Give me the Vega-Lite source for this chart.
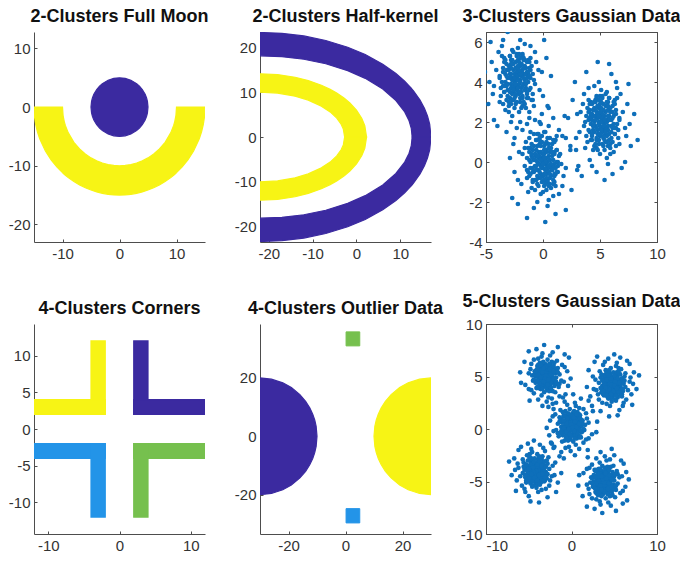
{
"$schema": "https://vega.github.io/schema/vega-lite/v6.json",
"padding": {"left": 8, "top": 7, "right": 0, "bottom": 5},
"config": {
  "font": "Liberation Sans",
  "view": {"stroke": null},
  "axis": {"grid": false, "title": null, "domainColor": "#4d4d4d", "tickColor": "#4d4d4d", "tickSize": -3, "labelPadding": 7, "labelFontSize": 15, "labelColor": "#333333", "labelFlush": false, "labelOverlap": false, "labelFont": "Liberation Sans", "labelExpr": "replace(datum.label, '−', '-')"},
  "title": {"fontSize": 18, "fontWeight": "bold", "color": "#111111", "offset": 6, "font": "Liberation Sans"}
},
"datasets": {
  "moon": [
    {"c":"k","g":"a","x":-5,"y":0,"y2":0},{"c":"k","g":"a","x":-4.9,"y":-0.99,"y2":0.99},{"c":"k","g":"a","x":-4.75,"y":-1.56,"y2":1.56},{"c":"k","g":"a","x":-4.5,"y":-2.18,"y2":2.18},{"c":"k","g":"a","x":-4,"y":-3,"y2":3},{"c":"k","g":"a","x":-3.5,"y":-3.57,"y2":3.57},{"c":"k","g":"a","x":-3,"y":-4,"y2":4},{"c":"k","g":"a","x":-2,"y":-4.58,"y2":4.58},{"c":"k","g":"a","x":-1,"y":-4.9,"y2":4.9},{"c":"k","g":"a","x":0,"y":-5,"y2":5},{"c":"k","g":"a","x":1,"y":-4.9,"y2":4.9},{"c":"k","g":"a","x":2,"y":-4.58,"y2":4.58},{"c":"k","g":"a","x":3,"y":-4,"y2":4},{"c":"k","g":"a","x":3.5,"y":-3.57,"y2":3.57},{"c":"k","g":"a","x":4,"y":-3,"y2":3},{"c":"k","g":"a","x":4.5,"y":-2.18,"y2":2.18},{"c":"k","g":"a","x":4.75,"y":-1.56,"y2":1.56},{"c":"k","g":"a","x":4.9,"y":-0.99,"y2":0.99},{"c":"k","g":"a","x":5,"y":0,"y2":0},
    {"c":"y","g":"b","x":-15,"y":0,"y2":0},{"c":"y","g":"b","x":-14.9,"y":-1.73,"y2":0},{"c":"y","g":"b","x":-14.7,"y":-2.99,"y2":0},{"c":"y","g":"b","x":-14.4,"y":-4.2,"y2":0},{"c":"y","g":"b","x":-14,"y":-5.39,"y2":0},{"c":"y","g":"b","x":-13,"y":-7.48,"y2":0},{"c":"y","g":"b","x":-12,"y":-9,"y2":0},{"c":"y","g":"b","x":-11,"y":-10.2,"y2":0},{"c":"y","g":"b","x":-10,"y":-11.18,"y2":0},{"c":"y","g":"b","x":-9.9,"y":-11.27,"y2":-1.41},{"c":"y","g":"b","x":-9.7,"y":-11.44,"y2":-2.43},{"c":"y","g":"b","x":-9.5,"y":-11.61,"y2":-3.12},{"c":"y","g":"b","x":-9,"y":-12,"y2":-4.36},{"c":"y","g":"b","x":-8,"y":-12.69,"y2":-6},{"c":"y","g":"b","x":-7,"y":-13.27,"y2":-7.14},{"c":"y","g":"b","x":-6,"y":-13.75,"y2":-8},{"c":"y","g":"b","x":-5,"y":-14.14,"y2":-8.66},{"c":"y","g":"b","x":-4,"y":-14.46,"y2":-9.17},{"c":"y","g":"b","x":-3,"y":-14.7,"y2":-9.54},{"c":"y","g":"b","x":-2,"y":-14.87,"y2":-9.8},{"c":"y","g":"b","x":-1,"y":-14.97,"y2":-9.95},{"c":"y","g":"b","x":0,"y":-15,"y2":-10},
    {"c":"y","g":"b","x":1,"y":-14.97,"y2":-9.95},{"c":"y","g":"b","x":2,"y":-14.87,"y2":-9.8},{"c":"y","g":"b","x":3,"y":-14.7,"y2":-9.54},{"c":"y","g":"b","x":4,"y":-14.46,"y2":-9.17},{"c":"y","g":"b","x":5,"y":-14.14,"y2":-8.66},{"c":"y","g":"b","x":6,"y":-13.75,"y2":-8},{"c":"y","g":"b","x":7,"y":-13.27,"y2":-7.14},{"c":"y","g":"b","x":8,"y":-12.69,"y2":-6},{"c":"y","g":"b","x":9,"y":-12,"y2":-4.36},{"c":"y","g":"b","x":9.5,"y":-11.61,"y2":-3.12},{"c":"y","g":"b","x":9.7,"y":-11.44,"y2":-2.43},{"c":"y","g":"b","x":9.9,"y":-11.27,"y2":-1.41},{"c":"y","g":"b","x":10,"y":-11.18,"y2":0},{"c":"y","g":"b","x":11,"y":-10.2,"y2":0},{"c":"y","g":"b","x":12,"y":-9,"y2":0},{"c":"y","g":"b","x":13,"y":-7.48,"y2":0},{"c":"y","g":"b","x":14,"y":-5.39,"y2":0},{"c":"y","g":"b","x":14.4,"y":-4.2,"y2":0},{"c":"y","g":"b","x":14.7,"y":-2.99,"y2":0},{"c":"y","g":"b","x":14.9,"y":-1.73,"y2":0},{"c":"y","g":"b","x":15,"y":0,"y2":0}
  ],
  "kernel": [
    {"c":"k","g":"t1","x":-22,"y":18.1,"y2":23.3},{"c":"k","g":"t1","x":-17,"y":17.91,"y2":23.11},{"c":"k","g":"t1","x":-12,"y":17.33,"y2":22.52},{"c":"k","g":"t1","x":-7,"y":16.32,"y2":21.51},{"c":"k","g":"t1","x":-2,"y":14.79,"y2":20},{"c":"k","g":"t1","x":2,"y":13.07,"y2":18.37},{"c":"k","g":"t1","x":6,"y":10.69,"y2":16.22},{"c":"k","g":"t1","x":9,"y":8.13,"y2":14.14},{"c":"k","g":"t1","x":11,"y":5.6,"y2":12.42},{"c":"k","g":"t1","x":12,"y":3.62,"y2":11.41},{"c":"k","g":"t1","x":12.5,"y":1.94,"y2":10.87},{"c":"k","g":"t1","x":12.7,"y":0,"y2":10.64},{"c":"k","g":"t1","x":13,"y":0,"y2":10.28},{"c":"k","g":"t1","x":14.5,"y":0,"y2":8.21},{"c":"k","g":"t1","x":15.5,"y":0,"y2":6.4},{"c":"k","g":"t1","x":16.2,"y":0,"y2":4.7},{"c":"k","g":"t1","x":16.7,"y":0,"y2":2.89},{"c":"k","g":"t1","x":17,"y":0,"y2":0},
    {"c":"k","g":"b1","x":-22,"y":-23.3,"y2":-18.1},{"c":"k","g":"b1","x":-17,"y":-23.11,"y2":-17.91},{"c":"k","g":"b1","x":-12,"y":-22.52,"y2":-17.33},{"c":"k","g":"b1","x":-7,"y":-21.51,"y2":-16.32},{"c":"k","g":"b1","x":-2,"y":-20,"y2":-14.79},{"c":"k","g":"b1","x":2,"y":-18.37,"y2":-13.07},{"c":"k","g":"b1","x":6,"y":-16.22,"y2":-10.69},{"c":"k","g":"b1","x":9,"y":-14.14,"y2":-8.13},{"c":"k","g":"b1","x":11,"y":-12.42,"y2":-5.6},{"c":"k","g":"b1","x":12,"y":-11.41,"y2":-3.62},{"c":"k","g":"b1","x":12.5,"y":-10.87,"y2":-1.94},{"c":"k","g":"b1","x":12.7,"y":-10.64,"y2":0},{"c":"k","g":"b1","x":13,"y":-10.28,"y2":0},{"c":"k","g":"b1","x":14.5,"y":-8.21,"y2":0},{"c":"k","g":"b1","x":15.5,"y":-6.4,"y2":0},{"c":"k","g":"b1","x":16.2,"y":-4.7,"y2":0},{"c":"k","g":"b1","x":16.7,"y":-2.89,"y2":0},{"c":"k","g":"b1","x":17,"y":0,"y2":0},
    {"c":"y","g":"t2","x":-22,"y":10,"y2":14.1},{"c":"y","g":"t2","x":-18,"y":9.78,"y2":13.91},{"c":"y","g":"t2","x":-14,"y":9.1,"y2":13.31},{"c":"y","g":"t2","x":-11,"y":8.22,"y2":12.57},{"c":"y","g":"t2","x":-8,"y":6.88,"y2":11.52},{"c":"y","g":"t2","x":-6,"y":5.59,"y2":10.61},{"c":"y","g":"t2","x":-4.5,"y":4.22,"y2":9.78},{"c":"y","g":"t2","x":-3.5,"y":2.85,"y2":9.14},{"c":"y","g":"t2","x":-3,"y":1.76,"y2":8.79},{"c":"y","g":"t2","x":-2.7,"y":0,"y2":8.57},{"c":"y","g":"t2","x":-1.5,"y":0,"y2":7.57},{"c":"y","g":"t2","x":0,"y":0,"y2":5.99},{"c":"y","g":"t2","x":1.2,"y":0,"y2":4.19},{"c":"y","g":"t2","x":1.9,"y":0,"y2":2.55},{"c":"y","g":"t2","x":2.3,"y":0,"y2":0},
    {"c":"y","g":"b2","x":-22,"y":-14.1,"y2":-10},{"c":"y","g":"b2","x":-18,"y":-13.91,"y2":-9.78},{"c":"y","g":"b2","x":-14,"y":-13.31,"y2":-9.1},{"c":"y","g":"b2","x":-11,"y":-12.57,"y2":-8.22},{"c":"y","g":"b2","x":-8,"y":-11.52,"y2":-6.88},{"c":"y","g":"b2","x":-6,"y":-10.61,"y2":-5.59},{"c":"y","g":"b2","x":-4.5,"y":-9.78,"y2":-4.22},{"c":"y","g":"b2","x":-3.5,"y":-9.14,"y2":-2.85},{"c":"y","g":"b2","x":-3,"y":-8.79,"y2":-1.76},{"c":"y","g":"b2","x":-2.7,"y":-8.57,"y2":0},{"c":"y","g":"b2","x":-1.5,"y":-7.57,"y2":0},{"c":"y","g":"b2","x":0,"y":-5.99,"y2":0},{"c":"y","g":"b2","x":1.2,"y":-4.19,"y2":0},{"c":"y","g":"b2","x":1.9,"y":-2.55,"y2":0},{"c":"y","g":"b2","x":2.3,"y":0,"y2":0}
  ],
  "corners": [
    {"c":"y","x":-4,"x2":-2,"y":2,"y2":12},{"c":"y","x":-12,"x2":-2,"y":2,"y2":4},
    {"c":"k","x":2,"x2":4,"y":2,"y2":12},{"c":"k","x":2,"x2":12,"y":2,"y2":4},
    {"c":"l","x":-12,"x2":-2,"y":-4,"y2":-2},{"c":"l","x":-4,"x2":-2,"y":-12,"y2":-2},
    {"c":"g","x":2,"x2":12,"y":-4,"y2":-2},{"c":"g","x":2,"x2":4,"y":-12,"y2":-2}
  ],
  "outA": [
    {"c":"k","g":"o1","x":-30,"y":-20,"y2":20},{"c":"k","g":"o1","x":-26,"y":-19.6,"y2":19.6},{"c":"k","g":"o1","x":-22,"y":-18.33,"y2":18.33},{"c":"k","g":"o1","x":-19,"y":-16.7,"y2":16.7},{"c":"k","g":"o1","x":-16,"y":-14.28,"y2":14.28},{"c":"k","g":"o1","x":-14,"y":-12,"y2":12},{"c":"k","g":"o1","x":-12.5,"y":-9.68,"y2":9.68},{"c":"k","g":"o1","x":-11.5,"y":-7.6,"y2":7.6},{"c":"k","g":"o1","x":-10.8,"y":-5.6,"y2":5.6},{"c":"k","g":"o1","x":-10.3,"y":-3.45,"y2":3.45},{"c":"k","g":"o1","x":-10,"y":0,"y2":0},
    {"c":"y","g":"o2","x":10,"y":0,"y2":0},{"c":"y","g":"o2","x":10.3,"y":-3.45,"y2":3.45},{"c":"y","g":"o2","x":10.8,"y":-5.6,"y2":5.6},{"c":"y","g":"o2","x":11.5,"y":-7.6,"y2":7.6},{"c":"y","g":"o2","x":12.5,"y":-9.68,"y2":9.68},{"c":"y","g":"o2","x":14,"y":-12,"y2":12},{"c":"y","g":"o2","x":16,"y":-14.28,"y2":14.28},{"c":"y","g":"o2","x":19,"y":-16.7,"y2":16.7},{"c":"y","g":"o2","x":22,"y":-18.33,"y2":18.33},{"c":"y","g":"o2","x":26,"y":-19.6,"y2":19.6},{"c":"y","g":"o2","x":30,"y":-20,"y2":20}
  ],
  "outR": [
    {"c":"g","x":0.2,"x2":5,"y":31,"y2":35.8},
    {"c":"l","x":0.2,"x2":5,"y":-29.7,"y2":-24.8}
  ],
  "g3": [
{"x":-2.2,"y":4.3},{"x":-2.6,"y":4.6},{"x":-1.7,"y":3.9},{"x":-2.8,"y":3.7},{"x":-2.1,"y":3.4},{"x":-3.1,"y":4.2},{"x":-1.4,"y":4.5},{"x":-2.4,"y":5.0},{"x":-1.9,"y":4.9},{"x":-2.9,"y":3.2},
{"x":-1.2,"y":3.6},{"x":-3.5,"y":4.7},{"x":-2.0,"y":3.0},{"x":-2.5,"y":4.0},{"x":-1.6,"y":4.1},{"x":-3.2,"y":3.8},{"x":-2.3,"y":3.6},{"x":-1.0,"y":4.8},{"x":-3.7,"y":3.3},{"x":-1.8,"y":5.4},
{"x":-2.7,"y":5.6},{"x":-0.7,"y":3.9},{"x":-3.8,"y":4.3},{"x":-1.5,"y":2.7},{"x":-3.0,"y":2.5},{"x":-1.3,"y":5.1},{"x":-3.4,"y":5.2},{"x":-2.1,"y":4.5},{"x":-2.6,"y":3.5},{"x":-1.7,"y":4.4},
{"x":-0.4,"y":4.6},{"x":-4.3,"y":3.8},{"x":-2.0,"y":6.1},{"x":-2.8,"y":2.0},{"x":-0.8,"y":2.8},{"x":-3.9,"y":5.5},{"x":-1.1,"y":5.8},{"x":-3.3,"y":2.6},{"x":0.0,"y":3.3},{"x":-4.5,"y":5.0},
{"x":-1.4,"y":1.9},{"x":-3.1,"y":6.5},{"x":0.3,"y":5.2},{"x":-4.8,"y":2.9},{"x":-0.9,"y":6.6},{"x":-4.0,"y":1.8},{"x":-2.2,"y":3.8},{"x":-2.4,"y":4.7},{"x":-1.9,"y":3.7},{"x":-2.9,"y":4.4},
{"x":-1.5,"y":4.7},{"x":-3.2,"y":4.9},{"x":-1.8,"y":3.3},{"x":-2.6,"y":3.1},{"x":-1.1,"y":4.2},{"x":-3.6,"y":4.0},{"x":-2.3,"y":5.3},{"x":-2.1,"y":2.5},{"x":-0.6,"y":5.0},{"x":-4.1,"y":4.6},
{"x":-1.6,"y":5.9},{"x":-2.7,"y":2.3},{"x":-0.3,"y":3.6},{"x":-4.4,"y":3.4},{"x":-1.2,"y":2.2},{"x":-3.5,"y":6.1},{"x":0.7,"y":4.3},{"x":-5.1,"y":4.5},{"x":-1.9,"y":7.1},{"x":-2.5,"y":1.2},
{"x":0.1,"y":6.1},{"x":-4.6,"y":6.0},{"x":-0.2,"y":1.9},{"x":-4.3,"y":2.1},{"x":-2.0,"y":4.1},{"x":-2.4,"y":3.3},{"x":-1.4,"y":3.2},{"x":-3.0,"y":4.6},{"x":-1.3,"y":4.4},{"x":-3.4,"y":3.5},
{"x":-1.7,"y":5.1},{"x":-2.8,"y":5.1},{"x":-0.9,"y":3.4},{"x":-3.8,"y":3.0},{"x":-2.2,"y":5.7},{"x":-1.6,"y":2.9},{"x":-0.7,"y":5.5},{"x":-3.6,"y":5.8},{"x":-0.1,"y":4.5},{"x":-4.7,"y":4.0},
{"x":-1.8,"y":1.6},{"x":-3.2,"y":1.5},{"x":0.5,"y":2.7},{"x":-5.4,"y":3.2},{"x":-0.5,"y":1.4},{"x":-2.9,"y":7.0},{"x":-2.3,"y":4.1},{"x":-2.7,"y":4.2},{"x":-2.0,"y":4.8},{"x":-2.5,"y":3.7},
{"x":-2.1,"y":3.9},{"x":-2.5,"y":4.4},{"x":-1.8,"y":4.6},{"x":-2.8,"y":3.9},{"x":-2.2,"y":5.1},{"x":-3.1,"y":3.6},{"x":-1.5,"y":3.7},{"x":-2.6,"y":4.9},{"x":-1.9,"y":3.5},{"x":-3.3,"y":4.4},
{"x":-1.3,"y":4.0},{"x":-2.4,"y":2.9},{"x":-1.7,"y":5.2},{"x":-2.9,"y":5.3},{"x":-1.1,"y":4.6},{"x":-3.5,"y":3.8},{"x":-2.0,"y":3.2},{"x":-2.7,"y":3.4},{"x":-1.6,"y":4.8},{"x":-3.2,"y":4.6},
{"x":-2.3,"y":4.5},{"x":-1.9,"y":4.3},{"x":-2.5,"y":3.8},{"x":-1.4,"y":3.4},{"x":-3.0,"y":3.0},{"x":-1.2,"y":5.0},{"x":-3.4,"y":5.0},{"x":-2.1,"y":5.4},{"x":-1.8,"y":2.8},{"x":-2.8,"y":4.7},
{"x":-2.3,"y":4.3},{"x":-2.0,"y":4.0},{"x":-2.7,"y":4.1},{"x":-2.2,"y":3.7},{"x":-2.4,"y":4.7},{"x":-1.7,"y":4.7},{"x":-2.9,"y":3.5},{"x":-1.6,"y":3.6},{"x":-3.0,"y":4.8},{"x":-2.1,"y":5.0},
{"x":-2.5,"y":3.2},{"x":-1.4,"y":4.2},{"x":-3.3,"y":4.0},{"x":-1.8,"y":5.3},{"x":-2.8,"y":2.9},{"x":-1.1,"y":3.7},{"x":-3.5,"y":4.5},{"x":-1.4,"y":5.0},{"x":-3.2,"y":3.1},{"x":-1.3,"y":3.2},
{"x":-3.3,"y":5.1},{"x":-1.9,"y":2.7},{"x":-2.6,"y":5.5},{"x":-0.9,"y":4.4},{"x":-3.7,"y":3.7},{"x":-2.2,"y":4.1},{"x":-2.5,"y":4.2},{"x":-1.9,"y":4.5},{"x":-2.8,"y":4.4},{"x":-2.1,"y":3.5},
{"x":-2.6,"y":3.8},{"x":-1.5,"y":4.4},{"x":-3.1,"y":3.9},{"x":-1.8,"y":3.2},{"x":-2.7,"y":5.1},{"x":-1.2,"y":4.7},{"x":-3.4,"y":3.5},{"x":-1.6,"y":5.1},{"x":-3.0,"y":2.8},{"x":-1.0,"y":3.1},
{"x":-3.6,"y":5.3},{"x":-2.3,"y":3.0},{"x":-2.3,"y":5.4},{"x":-0.8,"y":4.1},{"x":-3.8,"y":4.2},{"x":-1.7,"y":4.2},{"x":-2.9,"y":4.2},{"x":-2.2,"y":4.8},{"x":-2.4,"y":3.4},{"x":-2.0,"y":4.4},
{"x":-2.6,"y":3.6},{"x":-1.5,"y":3.9},{"x":-3.2,"y":4.3},{"x":-2.0,"y":5.2},{"x":-2.5,"y":2.7},{"x":-1.3,"y":4.5},{"x":-3.4,"y":3.8},{"x":-1.7,"y":3.0},{"x":-2.9,"y":5.3},{"x":-1.1,"y":5.2},
{"x":-3.5,"y":2.9},{"x":-2.1,"y":4.6},{"x":-2.4,"y":3.9},{"x":-1.8,"y":3.8},{"x":-2.8,"y":4.9},{"x":-1.4,"y":3.5},{"x":-3.1,"y":3.3},{"x":-1.9,"y":4.9},{"x":-2.7,"y":3.1},{"x":-1.2,"y":4.3},
{"x":0.2,"y":-0.1},{"x":0.5,"y":0.3},{"x":-0.2,"y":-0.6},{"x":-0.4,"y":0.5},{"x":-0.7,"y":-0.2},{"x":0.1,"y":0.8},{"x":0.4,"y":-0.9},{"x":0.9,"y":0.1},{"x":0.8,"y":-0.4},{"x":-0.9,"y":0.6},
{"x":-0.5,"y":-1.1},{"x":0.6,"y":1.2},{"x":-1.1,"y":-0.3},{"x":-0.1,"y":0.2},{"x":0.0,"y":-0.7},{"x":-0.3,"y":0.9},{"x":-0.5,"y":0.0},{"x":0.7,"y":-1.3},{"x":-0.8,"y":1.4},{"x":1.3,"y":-0.5},
{"x":1.5,"y":0.4},{"x":-0.2,"y":-1.6},{"x":0.2,"y":1.5},{"x":-1.4,"y":-0.8},{"x":-1.6,"y":0.7},{"x":1.0,"y":-1.0},{"x":1.1,"y":1.1},{"x":0.4,"y":-0.2},{"x":-0.6,"y":0.3},{"x":0.3,"y":-0.6},
{"x":0.5,"y":-1.9},{"x":-0.3,"y":2.0},{"x":2.0,"y":-0.3},{"x":-2.1,"y":0.5},{"x":-1.3,"y":-1.5},{"x":1.4,"y":1.6},{"x":1.7,"y":-1.2},{"x":-1.5,"y":1.0},{"x":-0.8,"y":-2.3},{"x":0.9,"y":2.2},
{"x":-2.2,"y":-0.9},{"x":2.4,"y":0.8},{"x":1.1,"y":-2.6},{"x":-1.2,"y":2.5},{"x":2.5,"y":-1.4},{"x":-2.3,"y":1.7},{"x":-0.3,"y":-0.1},{"x":0.6,"y":0.1},{"x":-0.4,"y":-0.4},{"x":0.3,"y":0.6},
{"x":0.6,"y":-0.8},{"x":0.8,"y":0.9},{"x":-0.8,"y":-0.5},{"x":-1.0,"y":0.3},{"x":0.1,"y":-1.2},{"x":-0.1,"y":1.3},{"x":1.2,"y":0.0},{"x":-1.6,"y":-0.2},{"x":0.9,"y":-1.7},{"x":0.5,"y":1.8},
{"x":1.8,"y":-0.7},{"x":-1.8,"y":0.4},{"x":-0.5,"y":-2.0},{"x":-0.7,"y":2.1},{"x":-1.9,"y":-1.1},{"x":2.0,"y":1.2},{"x":0.2,"y":-3.0},{"x":0.4,"y":2.8},{"x":3.0,"y":-0.4},{"x":-2.9,"y":0.2},
{"x":2.0,"y":-2.4},{"x":1.9,"y":2.3},{"x":-2.2,"y":-2.1},{"x":-2.0,"y":2.0},{"x":0.0,"y":-0.3},{"x":-0.8,"y":0.1},{"x":-0.9,"y":-0.9},{"x":0.5,"y":0.7},{"x":0.3,"y":-1.0},{"x":-0.6,"y":1.1},
{"x":1.0,"y":-0.6},{"x":1.0,"y":0.5},{"x":-0.7,"y":-1.4},{"x":-1.1,"y":1.5},{"x":1.6,"y":-0.1},{"x":-1.2,"y":-0.7},{"x":1.4,"y":-1.6},{"x":1.7,"y":1.3},{"x":0.4,"y":-2.2},{"x":-0.1,"y":2.4},
{"x":-2.5,"y":-0.5},{"x":-2.6,"y":0.9},{"x":-1.4,"y":-2.8},{"x":-0.9,"y":3.1},{"x":-2.7,"y":-1.8},{"x":2.9,"y":0.6},{"x":0.0,"y":0.0},{"x":0.1,"y":0.4},{"x":0.7,"y":-0.3},{"x":-0.4,"y":0.2},
{"x":-0.2,"y":-0.2},{"x":0.3,"y":0.2},{"x":0.5,"y":-0.5},{"x":-0.2,"y":0.5},{"x":1.0,"y":-0.1},{"x":-0.5,"y":0.8},{"x":-0.4,"y":-0.8},{"x":0.8,"y":0.3},{"x":-0.6,"y":-0.4},{"x":0.3,"y":1.0},
{"x":-0.1,"y":-1.0},{"x":-1.2,"y":0.1},{"x":1.1,"y":-0.6},{"x":1.2,"y":0.6},{"x":0.5,"y":-1.2},{"x":-0.3,"y":1.2},{"x":-0.9,"y":-0.3},{"x":-0.7,"y":0.4},{"x":0.7,"y":-0.7},{"x":0.5,"y":0.9},
{"x":0.4,"y":0.0},{"x":0.2,"y":-0.4},{"x":-0.3,"y":0.2},{"x":-0.7,"y":-0.9},{"x":-1.1,"y":0.7},{"x":0.9,"y":-1.1},{"x":0.9,"y":1.1},{"x":1.3,"y":-0.2},{"x":-1.3,"y":-0.5},{"x":0.6,"y":0.5},
{"x":0.2,"y":0.0},{"x":-0.1,"y":-0.3},{"x":0.0,"y":0.4},{"x":-0.4,"y":-0.1},{"x":0.6,"y":0.1},{"x":0.6,"y":-0.6},{"x":-0.6,"y":0.6},{"x":-0.5,"y":-0.7},{"x":0.7,"y":0.7},{"x":0.9,"y":-0.2},
{"x":-0.9,"y":0.2},{"x":0.1,"y":-0.9},{"x":-0.1,"y":1.0},{"x":1.2,"y":-0.5},{"x":-1.2,"y":0.5},{"x":-0.4,"y":-1.2},{"x":0.4,"y":1.2},{"x":0.9,"y":-0.9},{"x":-1.0,"y":0.9},{"x":-0.9,"y":-1.0},
{"x":1.0,"y":1.0},{"x":-1.4,"y":-0.4},{"x":1.4,"y":0.3},{"x":0.3,"y":-1.4},{"x":-0.4,"y":1.4},{"x":0.0,"y":-0.1},{"x":0.1,"y":0.2},{"x":0.4,"y":-0.4},{"x":0.3,"y":0.5},{"x":-0.6,"y":-0.2},
{"x":-0.3,"y":0.3},{"x":0.3,"y":-0.8},{"x":-0.2,"y":0.8},{"x":-0.9,"y":-0.5},{"x":1.0,"y":0.4},{"x":0.6,"y":-1.1},{"x":-0.6,"y":1.1},{"x":1.0,"y":-0.7},{"x":-1.3,"y":0.7},{"x":-1.0,"y":-1.3},
{"x":1.2,"y":1.3},{"x":-1.1,"y":0.0},{"x":1.3,"y":0.0},{"x":0.0,"y":-1.5},{"x":0.1,"y":1.5},{"x":0.1,"y":-0.6},{"x":0.1,"y":0.6},{"x":0.7,"y":-0.1},{"x":-0.7,"y":0.1},{"x":0.3,"y":-0.3},
{"x":-0.5,"y":0.3},{"x":-0.2,"y":-0.8},{"x":0.2,"y":0.9},{"x":1.1,"y":-0.3},{"x":-1.4,"y":0.2},{"x":0.4,"y":-1.0},{"x":-0.3,"y":1.1},{"x":-1.1,"y":-0.6},{"x":1.2,"y":0.6},{"x":1.1,"y":-1.2},
{"x":-1.2,"y":1.2},{"x":0.5,"y":-0.2},{"x":-0.2,"y":0.1},{"x":-0.3,"y":-0.5},{"x":0.8,"y":0.5},{"x":-0.6,"y":-0.9},{"x":-0.8,"y":0.8},{"x":0.8,"y":-0.4},{"x":-1.0,"y":0.4},{"x":0.2,"y":-1.1},
{"x":5.1,"y":2.2},{"x":5.5,"y":2.5},{"x":4.6,"y":1.8},{"x":5.7,"y":1.6},{"x":5.0,"y":1.3},{"x":6.0,"y":2.1},{"x":4.3,"y":2.4},{"x":5.3,"y":2.9},{"x":4.8,"y":2.8},{"x":5.8,"y":1.1},
{"x":4.1,"y":1.5},{"x":6.4,"y":2.6},{"x":4.9,"y":0.9},{"x":5.4,"y":1.9},{"x":4.5,"y":2.0},{"x":6.1,"y":1.7},{"x":5.2,"y":1.5},{"x":3.9,"y":2.7},{"x":6.6,"y":1.2},{"x":4.7,"y":3.3},
{"x":5.6,"y":3.5},{"x":3.6,"y":1.8},{"x":6.7,"y":2.2},{"x":4.4,"y":0.6},{"x":5.9,"y":0.4},{"x":4.2,"y":3.0},{"x":6.3,"y":3.1},{"x":5.0,"y":2.4},{"x":5.5,"y":1.4},{"x":4.6,"y":2.3},
{"x":3.3,"y":2.5},{"x":7.2,"y":1.7},{"x":4.9,"y":4.0},{"x":5.7,"y":-0.1},{"x":3.7,"y":0.7},{"x":6.8,"y":3.4},{"x":4.0,"y":3.7},{"x":6.2,"y":0.5},{"x":2.9,"y":1.2},{"x":7.4,"y":2.9},
{"x":4.3,"y":-0.2},{"x":6.0,"y":4.4},{"x":2.6,"y":3.1},{"x":7.7,"y":0.8},{"x":3.8,"y":4.5},{"x":6.9,"y":-0.3},{"x":5.1,"y":1.7},{"x":5.3,"y":2.6},{"x":4.8,"y":1.6},{"x":5.8,"y":2.3},
{"x":4.4,"y":2.6},{"x":6.1,"y":2.8},{"x":4.7,"y":1.2},{"x":5.5,"y":1.0},{"x":4.0,"y":2.1},{"x":6.5,"y":1.9},{"x":5.2,"y":3.2},{"x":5.0,"y":0.4},{"x":3.5,"y":2.9},{"x":7.0,"y":2.5},
{"x":4.5,"y":3.8},{"x":5.6,"y":0.2},{"x":3.2,"y":1.5},{"x":7.3,"y":1.3},{"x":4.1,"y":0.1},{"x":6.4,"y":4.0},{"x":2.2,"y":2.2},{"x":8.0,"y":2.4},{"x":4.8,"y":5.0},{"x":5.4,"y":-0.9},
{"x":2.8,"y":4.0},{"x":7.5,"y":3.9},{"x":3.1,"y":-0.2},{"x":7.2,"y":0.0},{"x":4.9,"y":2.0},{"x":5.3,"y":1.2},{"x":4.3,"y":1.1},{"x":5.9,"y":2.5},{"x":4.2,"y":2.3},{"x":6.3,"y":1.4},
{"x":4.6,"y":3.0},{"x":5.7,"y":3.0},{"x":3.8,"y":1.3},{"x":6.7,"y":0.9},{"x":5.1,"y":3.6},{"x":4.5,"y":0.8},{"x":3.6,"y":3.4},{"x":6.5,"y":3.7},{"x":3.0,"y":2.4},{"x":7.6,"y":1.9},
{"x":4.7,"y":-0.5},{"x":6.1,"y":-0.6},{"x":2.4,"y":0.6},{"x":8.3,"y":1.1},{"x":3.4,"y":-0.7},{"x":5.8,"y":4.9},{"x":5.2,"y":2.0},{"x":5.6,"y":2.1},{"x":4.9,"y":2.7},{"x":5.4,"y":1.6},
{"x":5.0,"y":1.8},{"x":5.4,"y":2.3},{"x":4.7,"y":2.5},{"x":5.7,"y":1.8},{"x":5.1,"y":3.0},{"x":6.0,"y":1.5},{"x":4.4,"y":1.6},{"x":5.5,"y":2.8},{"x":4.8,"y":1.4},{"x":6.2,"y":2.3},
{"x":4.2,"y":1.9},{"x":5.3,"y":0.8},{"x":4.6,"y":3.1},{"x":5.8,"y":3.2},{"x":4.0,"y":2.5},{"x":6.4,"y":1.7},{"x":4.9,"y":1.1},{"x":5.6,"y":1.3},{"x":4.5,"y":2.7},{"x":6.1,"y":2.5},
{"x":5.2,"y":2.4},{"x":4.8,"y":2.2},{"x":5.4,"y":1.7},{"x":4.3,"y":1.3},{"x":5.9,"y":0.9},{"x":4.1,"y":2.9},{"x":6.3,"y":2.9},{"x":5.0,"y":3.3},{"x":4.7,"y":0.7},{"x":5.7,"y":2.6},
{"x":5.2,"y":2.2},{"x":4.9,"y":1.9},{"x":5.6,"y":2.0},{"x":5.1,"y":1.6},{"x":5.3,"y":2.6},{"x":4.6,"y":2.6},{"x":5.8,"y":1.4},{"x":4.5,"y":1.5},{"x":5.9,"y":2.7},{"x":5.0,"y":2.9},
{"x":5.4,"y":1.1},{"x":4.3,"y":2.1},{"x":6.2,"y":1.9},{"x":4.7,"y":3.2},{"x":5.7,"y":0.8},{"x":4.0,"y":1.6},{"x":6.4,"y":2.4},{"x":4.3,"y":2.9},{"x":6.1,"y":1.0},{"x":4.2,"y":1.1},
{"x":6.2,"y":3.0},{"x":4.8,"y":0.6},{"x":5.5,"y":3.4},{"x":3.8,"y":2.3},{"x":6.6,"y":1.6},{"x":5.1,"y":2.0},{"x":5.4,"y":2.1},{"x":4.8,"y":2.4},{"x":5.7,"y":2.3},{"x":5.0,"y":1.4},
{"x":5.5,"y":1.7},{"x":4.4,"y":2.3},{"x":6.0,"y":1.8},{"x":4.7,"y":1.1},{"x":5.6,"y":3.0},{"x":4.1,"y":2.6},{"x":6.3,"y":1.4},{"x":4.5,"y":3.0},{"x":5.9,"y":0.7},{"x":3.9,"y":1.0},
{"x":6.5,"y":3.2},{"x":5.2,"y":0.9},{"x":5.2,"y":3.3},{"x":3.7,"y":2.0},{"x":6.7,"y":2.1},{"x":4.6,"y":2.1},{"x":5.8,"y":2.1},{"x":5.1,"y":2.7},{"x":5.3,"y":1.3},{"x":4.9,"y":2.3},
{"x":5.5,"y":1.5},{"x":4.4,"y":1.8},{"x":6.1,"y":2.2},{"x":4.9,"y":3.1},{"x":5.4,"y":0.6},{"x":4.2,"y":2.4},{"x":6.3,"y":1.7},{"x":4.6,"y":0.9},{"x":5.8,"y":3.2},{"x":4.0,"y":3.1},
{"x":6.4,"y":0.8},{"x":5.0,"y":2.5},{"x":5.3,"y":1.8},{"x":4.7,"y":1.7},{"x":5.7,"y":2.8},{"x":4.3,"y":1.4},{"x":6.0,"y":1.2},{"x":4.8,"y":2.8},{"x":5.6,"y":1.0},{"x":4.1,"y":2.2}
  ],
  "g5": [
{"x":-3.2,"y":5.1},{"x":-3.5,"y":4.7},{"x":-2.8,"y":5.6},{"x":-2.6,"y":4.5},{"x":-2.3,"y":5.2},{"x":-3.1,"y":4.2},{"x":-3.4,"y":5.9},{"x":-3.9,"y":4.9},{"x":-3.8,"y":5.4},{"x":-2.1,"y":4.4},
{"x":-2.5,"y":6.1},{"x":-3.6,"y":3.8},{"x":-1.9,"y":5.3},{"x":-2.9,"y":4.8},{"x":-3.0,"y":5.7},{"x":-2.7,"y":4.1},{"x":-2.5,"y":5.0},{"x":-3.7,"y":6.3},{"x":-2.2,"y":3.6},{"x":-4.3,"y":5.5},
{"x":-4.5,"y":4.6},{"x":-2.8,"y":6.6},{"x":-3.2,"y":3.5},{"x":-1.6,"y":5.8},{"x":-1.4,"y":4.3},{"x":-4.0,"y":6.0},{"x":-4.1,"y":3.9},{"x":-3.4,"y":5.2},{"x":-2.4,"y":4.7},{"x":-3.3,"y":5.6},
{"x":-3.5,"y":6.9},{"x":-2.7,"y":3.0},{"x":-5.0,"y":5.3},{"x":-0.9,"y":4.5},{"x":-1.7,"y":6.5},{"x":-4.4,"y":3.4},{"x":-4.7,"y":6.2},{"x":-1.5,"y":4.0},{"x":-2.2,"y":7.3},{"x":-3.9,"y":2.8},
{"x":-0.8,"y":5.9},{"x":-5.4,"y":4.2},{"x":-4.1,"y":7.6},{"x":-1.8,"y":2.5},{"x":-5.5,"y":6.4},{"x":-0.7,"y":3.3},{"x":-2.7,"y":5.1},{"x":-3.6,"y":4.9},{"x":-2.6,"y":5.4},{"x":-3.3,"y":4.4},
{"x":-3.6,"y":5.8},{"x":-3.8,"y":4.1},{"x":-2.2,"y":5.5},{"x":-2.0,"y":4.7},{"x":-3.1,"y":6.2},{"x":-2.9,"y":3.7},{"x":-4.2,"y":5.0},{"x":-1.4,"y":5.2},{"x":-3.9,"y":6.7},{"x":-3.5,"y":3.2},
{"x":-4.8,"y":5.7},{"x":-1.2,"y":4.6},{"x":-2.5,"y":7.0},{"x":-2.3,"y":2.9},{"x":-1.1,"y":6.1},{"x":-5.0,"y":3.8},{"x":-3.2,"y":8.0},{"x":-3.4,"y":2.2},{"x":-6.0,"y":5.4},{"x":-0.1,"y":4.8},
{"x":-5.0,"y":7.4},{"x":-4.9,"y":2.7},{"x":-0.8,"y":7.1},{"x":-1.0,"y":3.0},{"x":-3.0,"y":5.3},{"x":-2.2,"y":4.9},{"x":-2.1,"y":5.9},{"x":-3.5,"y":4.3},{"x":-3.3,"y":6.0},{"x":-2.4,"y":3.9},
{"x":-4.0,"y":5.6},{"x":-4.0,"y":4.5},{"x":-2.3,"y":6.4},{"x":-1.9,"y":3.5},{"x":-4.6,"y":5.1},{"x":-1.8,"y":5.7},{"x":-4.4,"y":6.6},{"x":-4.7,"y":3.7},{"x":-3.4,"y":7.2},{"x":-2.9,"y":2.6},
{"x":-0.5,"y":5.5},{"x":-0.4,"y":4.1},{"x":-1.6,"y":7.8},{"x":-2.1,"y":1.9},{"x":-0.3,"y":6.8},{"x":-5.9,"y":4.4},{"x":-3.0,"y":5.0},{"x":-3.1,"y":4.6},{"x":-3.7,"y":5.3},{"x":-2.6,"y":4.8},
{"x":-2.8,"y":5.2},{"x":-3.3,"y":4.8},{"x":-3.5,"y":5.5},{"x":-2.8,"y":4.5},{"x":-4.0,"y":5.1},{"x":-2.5,"y":4.2},{"x":-2.6,"y":5.8},{"x":-3.8,"y":4.7},{"x":-2.4,"y":5.4},{"x":-3.3,"y":4.0},
{"x":-2.9,"y":6.0},{"x":-1.8,"y":4.9},{"x":-4.1,"y":5.6},{"x":-4.2,"y":4.4},{"x":-3.5,"y":6.2},{"x":-2.7,"y":3.8},{"x":-2.1,"y":5.3},{"x":-2.3,"y":4.6},{"x":-3.7,"y":5.7},{"x":-3.5,"y":4.1},
{"x":-3.4,"y":5.0},{"x":-3.2,"y":5.4},{"x":-2.7,"y":4.8},{"x":-2.3,"y":5.9},{"x":-1.9,"y":4.3},{"x":-3.9,"y":6.1},{"x":-3.9,"y":3.9},{"x":-4.3,"y":5.2},{"x":-1.7,"y":5.5},{"x":-3.6,"y":4.5},
{"x":-3.2,"y":5.0},{"x":-2.9,"y":5.3},{"x":-3.0,"y":4.6},{"x":-2.6,"y":5.1},{"x":-3.6,"y":4.9},{"x":-3.6,"y":5.6},{"x":-2.4,"y":4.4},{"x":-2.5,"y":5.7},{"x":-3.7,"y":4.3},{"x":-3.9,"y":5.2},
{"x":-2.1,"y":4.8},{"x":-3.1,"y":5.9},{"x":-2.9,"y":4.0},{"x":-4.2,"y":5.5},{"x":-1.8,"y":4.5},{"x":-2.6,"y":6.2},{"x":-3.4,"y":3.8},{"x":-3.9,"y":5.9},{"x":-2.0,"y":4.1},{"x":-2.1,"y":6.0},
{"x":-4.0,"y":4.0},{"x":-1.6,"y":5.4},{"x":-4.4,"y":4.7},{"x":-3.3,"y":6.4},{"x":-2.6,"y":3.6},{"x":-3.0,"y":5.1},{"x":-3.1,"y":4.8},{"x":-3.4,"y":5.4},{"x":-3.3,"y":4.5},{"x":-2.4,"y":5.2},
{"x":-2.7,"y":4.7},{"x":-3.3,"y":5.8},{"x":-2.8,"y":4.2},{"x":-2.1,"y":5.5},{"x":-4.0,"y":4.6},{"x":-3.6,"y":6.1},{"x":-2.4,"y":3.9},{"x":-4.0,"y":5.7},{"x":-1.7,"y":4.3},{"x":-2.0,"y":6.3},
{"x":4.7,"y":4.0},{"x":5.1,"y":3.7},{"x":4.2,"y":4.4},{"x":5.3,"y":4.6},{"x":4.6,"y":4.9},{"x":5.6,"y":4.1},{"x":3.9,"y":3.8},{"x":4.9,"y":3.3},{"x":4.4,"y":3.4},{"x":5.4,"y":5.1},
{"x":3.7,"y":4.7},{"x":6.0,"y":3.6},{"x":4.5,"y":5.3},{"x":5.0,"y":4.3},{"x":4.1,"y":4.2},{"x":5.7,"y":4.5},{"x":4.8,"y":4.7},{"x":3.5,"y":3.5},{"x":6.2,"y":5.0},{"x":4.3,"y":2.9},
{"x":5.2,"y":2.7},{"x":3.2,"y":4.4},{"x":6.3,"y":4.0},{"x":4.0,"y":5.6},{"x":5.5,"y":5.8},{"x":3.8,"y":3.2},{"x":5.9,"y":3.1},{"x":4.6,"y":3.8},{"x":5.1,"y":4.8},{"x":4.2,"y":3.9},
{"x":2.9,"y":3.7},{"x":6.8,"y":4.5},{"x":4.5,"y":2.2},{"x":5.3,"y":6.3},{"x":3.3,"y":5.5},{"x":6.4,"y":2.8},{"x":3.6,"y":2.5},{"x":5.8,"y":5.7},{"x":2.5,"y":5.0},{"x":7.0,"y":3.3},
{"x":3.9,"y":6.4},{"x":5.6,"y":1.8},{"x":2.2,"y":3.1},{"x":7.3,"y":5.4},{"x":3.4,"y":1.7},{"x":6.5,"y":6.5},{"x":4.7,"y":4.5},{"x":4.9,"y":3.6},{"x":4.4,"y":4.6},{"x":5.4,"y":3.9},
{"x":4.0,"y":3.6},{"x":5.7,"y":3.4},{"x":4.3,"y":5.0},{"x":5.1,"y":5.2},{"x":3.6,"y":4.1},{"x":6.1,"y":4.3},{"x":4.8,"y":3.0},{"x":4.6,"y":5.8},{"x":3.1,"y":3.3},{"x":6.6,"y":3.7},
{"x":4.1,"y":2.4},{"x":5.2,"y":6.0},{"x":2.8,"y":4.7},{"x":6.9,"y":4.9},{"x":3.7,"y":6.1},{"x":6.0,"y":2.2},{"x":1.8,"y":4.0},{"x":7.6,"y":3.8},{"x":4.4,"y":1.2},{"x":5.0,"y":7.1},
{"x":2.4,"y":2.2},{"x":7.1,"y":2.3},{"x":2.7,"y":6.4},{"x":6.8,"y":6.2},{"x":4.5,"y":4.2},{"x":4.9,"y":5.0},{"x":3.9,"y":5.1},{"x":5.5,"y":3.7},{"x":3.8,"y":3.9},{"x":5.9,"y":4.8},
{"x":4.2,"y":3.2},{"x":5.3,"y":3.2},{"x":3.4,"y":4.9},{"x":6.3,"y":5.3},{"x":4.7,"y":2.6},{"x":4.1,"y":5.4},{"x":3.2,"y":2.8},{"x":6.1,"y":2.5},{"x":2.6,"y":3.8},{"x":7.2,"y":4.3},
{"x":4.3,"y":6.7},{"x":5.7,"y":6.8},{"x":2.0,"y":5.6},{"x":7.9,"y":5.1},{"x":3.0,"y":6.9},{"x":5.4,"y":1.3},{"x":4.8,"y":4.2},{"x":5.2,"y":4.1},{"x":4.5,"y":3.5},{"x":5.0,"y":4.6},
{"x":4.6,"y":4.4},{"x":5.0,"y":3.9},{"x":4.3,"y":3.7},{"x":5.3,"y":4.4},{"x":4.7,"y":3.2},{"x":5.6,"y":4.7},{"x":4.0,"y":4.6},{"x":5.1,"y":3.4},{"x":4.4,"y":4.8},{"x":5.8,"y":3.9},
{"x":3.8,"y":4.3},{"x":4.9,"y":5.4},{"x":4.2,"y":3.1},{"x":5.4,"y":3.0},{"x":3.6,"y":3.7},{"x":6.0,"y":4.5},{"x":4.5,"y":5.1},{"x":5.2,"y":4.9},{"x":4.1,"y":3.5},{"x":5.7,"y":3.7},
{"x":4.8,"y":3.8},{"x":4.4,"y":4.0},{"x":5.0,"y":4.5},{"x":3.9,"y":4.9},{"x":5.5,"y":5.3},{"x":3.7,"y":3.3},{"x":5.9,"y":3.3},{"x":4.6,"y":2.9},{"x":4.3,"y":5.5},{"x":5.3,"y":3.6},
{"x":4.8,"y":4.0},{"x":4.5,"y":4.3},{"x":5.2,"y":4.2},{"x":4.7,"y":4.6},{"x":4.9,"y":3.6},{"x":4.2,"y":3.6},{"x":5.4,"y":4.8},{"x":4.1,"y":4.7},{"x":5.5,"y":3.5},{"x":4.6,"y":3.3},
{"x":5.0,"y":5.1},{"x":3.9,"y":4.1},{"x":5.8,"y":4.3},{"x":4.3,"y":3.0},{"x":5.3,"y":5.4},{"x":3.6,"y":4.6},{"x":6.0,"y":3.8},{"x":3.9,"y":3.3},{"x":5.7,"y":5.2},{"x":3.8,"y":5.1},
{"x":5.8,"y":3.2},{"x":4.4,"y":5.6},{"x":5.1,"y":2.8},{"x":3.4,"y":3.9},{"x":6.2,"y":4.6},{"x":4.7,"y":4.2},{"x":5.0,"y":4.1},{"x":4.4,"y":3.8},{"x":5.3,"y":3.9},{"x":4.6,"y":4.8},
{"x":5.1,"y":4.5},{"x":4.0,"y":3.9},{"x":5.6,"y":4.4},{"x":4.3,"y":5.1},{"x":5.2,"y":3.2},{"x":3.7,"y":3.6},{"x":5.9,"y":4.8},{"x":4.1,"y":3.2},{"x":5.5,"y":5.5},{"x":3.5,"y":5.2},
{"x":0.2,"y":0.4},{"x":0.5,"y":0.0},{"x":-0.2,"y":0.9},{"x":-0.4,"y":-0.2},{"x":-0.7,"y":0.5},{"x":0.1,"y":-0.5},{"x":0.4,"y":1.2},{"x":0.9,"y":0.2},{"x":0.8,"y":0.7},{"x":-0.9,"y":-0.3},
{"x":-0.5,"y":1.4},{"x":0.6,"y":-0.9},{"x":-1.1,"y":0.6},{"x":-0.1,"y":0.1},{"x":0.0,"y":1.0},{"x":-0.3,"y":-0.6},{"x":-0.5,"y":0.3},{"x":0.7,"y":1.6},{"x":-0.8,"y":-1.1},{"x":1.3,"y":0.8},
{"x":1.5,"y":-0.1},{"x":-0.2,"y":1.9},{"x":0.2,"y":-1.2},{"x":-1.4,"y":1.1},{"x":-1.6,"y":-0.4},{"x":1.0,"y":1.3},{"x":1.1,"y":-0.8},{"x":0.4,"y":0.5},{"x":-0.6,"y":0.0},{"x":0.3,"y":0.9},
{"x":0.5,"y":2.2},{"x":-0.3,"y":-1.7},{"x":2.0,"y":0.6},{"x":-2.1,"y":-0.2},{"x":-1.3,"y":1.8},{"x":1.4,"y":-1.3},{"x":1.7,"y":1.5},{"x":-1.5,"y":-0.7},{"x":-0.8,"y":2.6},{"x":0.9,"y":-1.9},
{"x":-2.2,"y":1.2},{"x":2.4,"y":-0.5},{"x":1.1,"y":2.9},{"x":-1.2,"y":-2.2},{"x":2.5,"y":1.7},{"x":-2.3,"y":-1.4},{"x":-0.3,"y":0.4},{"x":0.6,"y":0.2},{"x":-0.4,"y":0.7},{"x":0.3,"y":-0.3},
{"x":0.6,"y":1.1},{"x":0.8,"y":-0.6},{"x":-0.8,"y":0.8},{"x":-1.0,"y":0.0},{"x":0.1,"y":1.5},{"x":-0.1,"y":-1.0},{"x":1.2,"y":0.3},{"x":-1.6,"y":0.5},{"x":0.9,"y":2.0},{"x":0.5,"y":-1.5},
{"x":1.8,"y":1.0},{"x":-1.8,"y":-0.1},{"x":-0.5,"y":2.3},{"x":-0.7,"y":-1.8},{"x":-1.9,"y":1.4},{"x":2.0,"y":-0.9},{"x":0.2,"y":3.3},{"x":0.4,"y":-2.5},{"x":3.0,"y":0.7},{"x":-2.9,"y":0.1},
{"x":2.0,"y":2.7},{"x":1.9,"y":-2.0},{"x":-2.2,"y":2.4},{"x":-2.0,"y":-1.7},{"x":0.0,"y":0.6},{"x":-0.8,"y":0.2},{"x":-0.9,"y":1.2},{"x":0.5,"y":-0.4},{"x":0.3,"y":1.3},{"x":-0.6,"y":-0.8},
{"x":1.0,"y":0.9},{"x":1.0,"y":-0.2},{"x":-0.7,"y":1.7},{"x":-1.1,"y":-1.2},{"x":1.6,"y":0.4},{"x":-1.2,"y":1.0},{"x":1.4,"y":1.9},{"x":1.7,"y":-1.0},{"x":0.4,"y":2.5},{"x":-0.1,"y":-2.1},
{"x":-2.5,"y":0.8},{"x":-2.6,"y":-0.6},{"x":-1.4,"y":3.1},{"x":-0.9,"y":-2.8},{"x":-2.7,"y":2.1},{"x":2.9,"y":-0.3},{"x":0.0,"y":0.3},{"x":0.1,"y":-0.1},{"x":0.7,"y":0.6},{"x":-0.4,"y":0.1},
{"x":-0.2,"y":0.5},{"x":0.3,"y":0.1},{"x":0.5,"y":0.8},{"x":-0.2,"y":-0.2},{"x":1.0,"y":0.4},{"x":-0.5,"y":-0.5},{"x":-0.4,"y":1.1},{"x":0.8,"y":0.0},{"x":-0.6,"y":0.7},{"x":0.3,"y":-0.7},
{"x":-0.1,"y":1.3},{"x":-1.2,"y":0.2},{"x":1.1,"y":0.9},{"x":1.2,"y":-0.3},{"x":0.5,"y":1.5},{"x":-0.3,"y":-0.9},{"x":-0.9,"y":0.6},{"x":-0.7,"y":-0.1},{"x":0.7,"y":1.0},{"x":0.5,"y":-0.6},
{"x":0.4,"y":0.3},{"x":0.2,"y":0.7},{"x":-0.3,"y":0.1},{"x":-0.7,"y":1.2},{"x":-1.1,"y":-0.4},{"x":0.9,"y":1.4},{"x":0.9,"y":-0.8},{"x":1.3,"y":0.5},{"x":-1.3,"y":0.8},{"x":0.6,"y":-0.2},
{"x":0.2,"y":0.3},{"x":-0.1,"y":0.6},{"x":0.0,"y":-0.1},{"x":-0.4,"y":0.4},{"x":0.6,"y":0.2},{"x":0.6,"y":0.9},{"x":-0.6,"y":-0.3},{"x":-0.5,"y":1.0},{"x":0.7,"y":-0.4},{"x":0.9,"y":0.5},
{"x":-0.9,"y":0.1},{"x":0.1,"y":1.2},{"x":-0.1,"y":-0.7},{"x":1.2,"y":0.8},{"x":-1.2,"y":-0.2},{"x":-0.4,"y":1.5},{"x":0.4,"y":-0.9},{"x":0.9,"y":1.2},{"x":-1.0,"y":-0.6},{"x":-0.9,"y":1.3},
{"x":1.0,"y":-0.7},{"x":-1.4,"y":0.7},{"x":1.4,"y":0.0},{"x":0.3,"y":1.7},{"x":-0.4,"y":-1.1},{"x":0.0,"y":0.4},{"x":0.1,"y":0.1},{"x":0.4,"y":0.7},{"x":0.3,"y":-0.2},{"x":-0.6,"y":0.5},
{"x":-0.3,"y":0.0},{"x":0.3,"y":1.1},{"x":-0.2,"y":-0.5},{"x":-0.9,"y":0.8},{"x":1.0,"y":-0.1},{"x":0.6,"y":1.4},{"x":-0.6,"y":-0.8},{"x":1.0,"y":1.0},{"x":-1.3,"y":-0.4},{"x":-1.0,"y":1.6},
{"x":-4.1,"y":-4.2},{"x":-4.5,"y":-4.5},{"x":-3.6,"y":-3.8},{"x":-4.7,"y":-3.6},{"x":-4.0,"y":-3.3},{"x":-5.0,"y":-4.1},{"x":-3.3,"y":-4.4},{"x":-4.3,"y":-4.9},{"x":-3.8,"y":-4.8},{"x":-4.8,"y":-3.1},
{"x":-3.1,"y":-3.5},{"x":-5.4,"y":-4.6},{"x":-3.9,"y":-2.9},{"x":-4.4,"y":-3.9},{"x":-3.5,"y":-4.0},{"x":-5.1,"y":-3.7},{"x":-4.2,"y":-3.5},{"x":-2.9,"y":-4.7},{"x":-5.6,"y":-3.2},{"x":-3.7,"y":-5.3},
{"x":-4.6,"y":-5.5},{"x":-2.6,"y":-3.8},{"x":-5.7,"y":-4.2},{"x":-3.4,"y":-2.6},{"x":-4.9,"y":-2.4},{"x":-3.2,"y":-5.0},{"x":-5.3,"y":-5.1},{"x":-4.0,"y":-4.4},{"x":-4.5,"y":-3.4},{"x":-3.6,"y":-4.3},
{"x":-2.3,"y":-4.5},{"x":-6.2,"y":-3.7},{"x":-3.9,"y":-6.0},{"x":-4.7,"y":-1.9},{"x":-2.7,"y":-2.7},{"x":-5.8,"y":-5.4},{"x":-3.0,"y":-5.7},{"x":-5.2,"y":-2.5},{"x":-1.9,"y":-3.2},{"x":-6.4,"y":-4.9},
{"x":-3.3,"y":-1.8},{"x":-5.0,"y":-6.4},{"x":-1.6,"y":-5.1},{"x":-6.7,"y":-2.8},{"x":-2.8,"y":-6.5},{"x":-5.9,"y":-1.7},{"x":-4.1,"y":-3.7},{"x":-4.3,"y":-4.6},{"x":-3.8,"y":-3.6},{"x":-4.8,"y":-4.3},
{"x":-3.4,"y":-4.6},{"x":-5.1,"y":-4.8},{"x":-3.7,"y":-3.2},{"x":-4.5,"y":-3.0},{"x":-3.0,"y":-4.1},{"x":-5.5,"y":-3.9},{"x":-4.2,"y":-5.2},{"x":-4.0,"y":-2.4},{"x":-2.5,"y":-4.9},{"x":-6.0,"y":-4.5},
{"x":-3.5,"y":-5.8},{"x":-4.6,"y":-2.2},{"x":-2.2,"y":-3.5},{"x":-6.3,"y":-3.3},{"x":-3.1,"y":-2.1},{"x":-5.4,"y":-6.0},{"x":-1.2,"y":-4.2},{"x":-7.0,"y":-4.4},{"x":-3.8,"y":-7.0},{"x":-4.4,"y":-1.1},
{"x":-1.8,"y":-6.0},{"x":-6.5,"y":-5.9},{"x":-2.1,"y":-1.8},{"x":-6.2,"y":-2.0},{"x":-3.9,"y":-4.0},{"x":-4.3,"y":-3.2},{"x":-3.3,"y":-3.1},{"x":-4.9,"y":-4.5},{"x":-3.2,"y":-4.3},{"x":-5.3,"y":-3.4},
{"x":-3.6,"y":-5.0},{"x":-4.7,"y":-5.0},{"x":-2.8,"y":-3.3},{"x":-5.7,"y":-2.9},{"x":-4.1,"y":-5.6},{"x":-3.5,"y":-2.8},{"x":-2.6,"y":-5.4},{"x":-5.5,"y":-5.7},{"x":-2.0,"y":-4.4},{"x":-6.6,"y":-3.9},
{"x":-3.7,"y":-1.5},{"x":-5.1,"y":-1.4},{"x":-1.4,"y":-2.6},{"x":-7.3,"y":-3.1},{"x":-2.4,"y":-1.3},{"x":-4.8,"y":-6.9},{"x":-4.2,"y":-4.0},{"x":-4.6,"y":-4.1},{"x":-3.9,"y":-4.7},{"x":-4.4,"y":-3.6},
{"x":-4.0,"y":-3.8},{"x":-4.4,"y":-4.3},{"x":-3.7,"y":-4.5},{"x":-4.7,"y":-3.8},{"x":-4.1,"y":-5.0},{"x":-5.0,"y":-3.5},{"x":-3.4,"y":-3.6},{"x":-4.5,"y":-4.8},{"x":-3.8,"y":-3.4},{"x":-5.2,"y":-4.3},
{"x":-3.2,"y":-3.9},{"x":-4.3,"y":-2.8},{"x":-3.6,"y":-5.1},{"x":-4.8,"y":-5.2},{"x":-3.0,"y":-4.5},{"x":-5.4,"y":-3.7},{"x":-3.9,"y":-3.1},{"x":-4.6,"y":-3.3},{"x":-3.5,"y":-4.7},{"x":-5.1,"y":-4.5},
{"x":-4.2,"y":-4.4},{"x":-3.8,"y":-4.2},{"x":-4.4,"y":-3.7},{"x":-3.3,"y":-3.3},{"x":-4.9,"y":-2.9},{"x":-3.1,"y":-4.9},{"x":-5.3,"y":-4.9},{"x":-4.0,"y":-5.3},{"x":-3.7,"y":-2.7},{"x":-4.7,"y":-4.6},
{"x":-4.2,"y":-4.2},{"x":-3.9,"y":-3.9},{"x":-4.6,"y":-4.0},{"x":-4.1,"y":-3.6},{"x":-4.3,"y":-4.6},{"x":-3.6,"y":-4.6},{"x":-4.8,"y":-3.4},{"x":-3.5,"y":-3.5},{"x":-4.9,"y":-4.7},{"x":-4.0,"y":-4.9},
{"x":-4.4,"y":-3.1},{"x":-3.3,"y":-4.1},{"x":-5.2,"y":-3.9},{"x":-3.7,"y":-5.2},{"x":-4.7,"y":-2.8},{"x":-3.0,"y":-3.6},{"x":-5.4,"y":-4.4},{"x":-3.3,"y":-4.9},{"x":-5.1,"y":-3.0},{"x":-3.2,"y":-3.1},
{"x":-5.2,"y":-5.0},{"x":-3.8,"y":-2.6},{"x":-4.5,"y":-5.4},{"x":-2.8,"y":-4.3},{"x":-5.6,"y":-3.6},{"x":-4.1,"y":-4.0},{"x":-4.4,"y":-4.1},{"x":-3.8,"y":-4.4},{"x":-4.7,"y":-4.3},{"x":-4.0,"y":-3.4},
{"x":-4.5,"y":-3.7},{"x":-3.4,"y":-4.3},{"x":-5.0,"y":-3.8},{"x":-3.7,"y":-3.1},{"x":-4.6,"y":-5.0},{"x":-3.1,"y":-4.6},{"x":-5.3,"y":-3.4},{"x":-3.5,"y":-5.0},{"x":-4.9,"y":-2.7},{"x":-2.9,"y":-3.0},
{"x":3.6,"y":-5.1},{"x":3.3,"y":-4.7},{"x":4.0,"y":-5.6},{"x":4.2,"y":-4.5},{"x":4.5,"y":-5.2},{"x":3.7,"y":-4.2},{"x":3.4,"y":-5.9},{"x":2.9,"y":-4.9},{"x":3.0,"y":-5.4},{"x":4.7,"y":-4.4},
{"x":4.3,"y":-6.1},{"x":3.2,"y":-3.8},{"x":4.9,"y":-5.3},{"x":3.9,"y":-4.8},{"x":3.8,"y":-5.7},{"x":4.1,"y":-4.1},{"x":4.3,"y":-5.0},{"x":3.1,"y":-6.3},{"x":4.6,"y":-3.6},{"x":2.5,"y":-5.5},
{"x":2.3,"y":-4.6},{"x":4.0,"y":-6.6},{"x":3.6,"y":-3.5},{"x":5.2,"y":-5.8},{"x":5.4,"y":-4.3},{"x":2.8,"y":-6.0},{"x":2.7,"y":-3.9},{"x":3.4,"y":-5.2},{"x":4.4,"y":-4.7},{"x":3.5,"y":-5.6},
{"x":3.3,"y":-6.9},{"x":4.1,"y":-3.0},{"x":1.8,"y":-5.3},{"x":5.9,"y":-4.5},{"x":5.1,"y":-6.5},{"x":2.4,"y":-3.4},{"x":2.1,"y":-6.2},{"x":5.3,"y":-4.0},{"x":4.6,"y":-7.3},{"x":2.9,"y":-2.8},
{"x":6.0,"y":-5.9},{"x":1.4,"y":-4.2},{"x":2.7,"y":-7.6},{"x":5.0,"y":-2.5},{"x":1.3,"y":-6.4},{"x":6.1,"y":-3.3},{"x":4.1,"y":-5.1},{"x":3.2,"y":-4.9},{"x":4.2,"y":-5.4},{"x":3.5,"y":-4.4},
{"x":3.2,"y":-5.8},{"x":3.0,"y":-4.1},{"x":4.6,"y":-5.5},{"x":4.8,"y":-4.7},{"x":3.7,"y":-6.2},{"x":3.9,"y":-3.7},{"x":2.6,"y":-5.0},{"x":5.4,"y":-5.2},{"x":2.9,"y":-6.7},{"x":3.3,"y":-3.2},
{"x":2.0,"y":-5.7},{"x":5.6,"y":-4.6},{"x":4.3,"y":-7.0},{"x":4.5,"y":-2.9},{"x":5.7,"y":-6.1},{"x":1.8,"y":-3.8},{"x":3.6,"y":-8.0},{"x":3.4,"y":-2.2},{"x":0.8,"y":-5.4},{"x":6.7,"y":-4.8},
{"x":1.8,"y":-7.4},{"x":1.9,"y":-2.7},{"x":6.0,"y":-7.1},{"x":5.8,"y":-3.0},{"x":3.8,"y":-5.3},{"x":4.6,"y":-4.9},{"x":4.7,"y":-5.9},{"x":3.3,"y":-4.3},{"x":3.5,"y":-6.0},{"x":4.4,"y":-3.9},
{"x":2.8,"y":-5.6},{"x":2.8,"y":-4.5},{"x":4.5,"y":-6.4},{"x":4.9,"y":-3.5},{"x":2.2,"y":-5.1},{"x":5.0,"y":-5.7},{"x":2.4,"y":-6.6},{"x":2.1,"y":-3.7},{"x":3.4,"y":-7.2},{"x":3.9,"y":-2.6},
{"x":6.3,"y":-5.5},{"x":6.4,"y":-4.1},{"x":5.2,"y":-7.8},{"x":4.7,"y":-1.9},{"x":6.5,"y":-6.8},{"x":0.9,"y":-4.4},{"x":3.8,"y":-5.0},{"x":3.7,"y":-4.6},{"x":3.1,"y":-5.3},{"x":4.2,"y":-4.8},
{"x":4.0,"y":-5.2},{"x":3.5,"y":-4.8},{"x":3.3,"y":-5.5},{"x":4.0,"y":-4.5},{"x":2.8,"y":-5.1},{"x":4.3,"y":-4.2},{"x":4.2,"y":-5.8},{"x":3.0,"y":-4.7},{"x":4.4,"y":-5.4},{"x":3.5,"y":-4.0},
{"x":3.9,"y":-6.0},{"x":5.0,"y":-4.9},{"x":2.7,"y":-5.6},{"x":2.6,"y":-4.4},{"x":3.3,"y":-6.2},{"x":4.1,"y":-3.8},{"x":4.7,"y":-5.3},{"x":4.5,"y":-4.6},{"x":3.1,"y":-5.7},{"x":3.3,"y":-4.1},
{"x":3.4,"y":-5.0},{"x":3.6,"y":-5.4},{"x":4.1,"y":-4.8},{"x":4.5,"y":-5.9},{"x":4.9,"y":-4.3},{"x":2.9,"y":-6.1},{"x":2.9,"y":-3.9},{"x":2.5,"y":-5.2},{"x":5.1,"y":-5.5},{"x":3.2,"y":-4.5},
{"x":3.6,"y":-5.0},{"x":3.9,"y":-5.3},{"x":3.8,"y":-4.6},{"x":4.2,"y":-5.1},{"x":3.2,"y":-4.9},{"x":3.2,"y":-5.6},{"x":4.4,"y":-4.4},{"x":4.3,"y":-5.7},{"x":3.1,"y":-4.3},{"x":2.9,"y":-5.2},
{"x":4.7,"y":-4.8},{"x":3.7,"y":-5.9},{"x":3.9,"y":-4.0},{"x":2.6,"y":-5.5},{"x":5.0,"y":-4.5},{"x":4.2,"y":-6.2},{"x":3.4,"y":-3.8},{"x":2.9,"y":-5.9},{"x":4.8,"y":-4.1},{"x":4.7,"y":-6.0},
{"x":2.8,"y":-4.0},{"x":5.2,"y":-5.4},{"x":2.4,"y":-4.7},{"x":3.5,"y":-6.4},{"x":4.2,"y":-3.6},{"x":3.8,"y":-5.1},{"x":3.7,"y":-4.8},{"x":3.4,"y":-5.4},{"x":3.5,"y":-4.5},{"x":4.4,"y":-5.2},
{"x":4.1,"y":-4.7},{"x":3.5,"y":-5.8},{"x":4.0,"y":-4.2},{"x":4.7,"y":-5.5},{"x":2.8,"y":-4.6},{"x":3.2,"y":-6.1},{"x":4.4,"y":-3.9},{"x":2.8,"y":-5.7},{"x":5.1,"y":-4.3},{"x":4.8,"y":-6.3}
  ]
},
"columns": 3,
"bounds": "flush",
"spacing": {"row": 82, "column": 55},
"concat": [
  {
    "title": "2-Clusters Full Moon",
    "width": 171, "height": 210,
    "data": {"name": "moon"},
    "mark": {"type": "area", "strokeWidth": 1.2, "clip": true},
    "encoding": {
      "x": {"field": "x", "type": "quantitative", "scale": {"domain": [-15, 15], "nice": false, "zero": false}, "axis": {"values": [-10, 0, 10]}},
      "y": {"field": "y", "type": "quantitative", "scale": {"domain": [-23, 12.8], "nice": false, "zero": false}, "axis": {"values": [-20, -10, 0, 10]}},
      "y2": {"field": "y2"},
      "detail": {"field": "g"},
      "color": {"field": "c", "type": "nominal", "scale": {"domain": ["k", "y", "l", "g"], "range": ["#3B2AA0", "#F7F415", "#2394E8", "#76C04E"]}, "legend": null},
      "stroke": {"field": "c", "type": "nominal", "scale": {"domain": ["k", "y", "l", "g"], "range": ["#3B2AA0", "#F7F415", "#2394E8", "#76C04E"]}, "legend": null}
    }
  },
  {
    "title": "2-Clusters Half-kernel",
    "width": 171, "height": 210,
    "data": {"name": "kernel"},
    "mark": {"type": "area", "strokeWidth": 1.2, "clip": true},
    "encoding": {
      "x": {"field": "x", "type": "quantitative", "scale": {"domain": [-22, 17], "nice": false, "zero": false}, "axis": {"values": [-20, -10, 0, 10]}},
      "y": {"field": "y", "type": "quantitative", "scale": {"domain": [-23.4, 23.4], "nice": false, "zero": false}, "axis": {"values": [-20, -10, 0, 10, 20]}},
      "y2": {"field": "y2"},
      "detail": {"field": "g"},
      "color": {"field": "c", "type": "nominal", "scale": {"domain": ["k", "y", "l", "g"], "range": ["#3B2AA0", "#F7F415", "#2394E8", "#76C04E"]}, "legend": null},
      "stroke": {"field": "c", "type": "nominal", "scale": {"domain": ["k", "y", "l", "g"], "range": ["#3B2AA0", "#F7F415", "#2394E8", "#76C04E"]}, "legend": null}
    }
  },
  {
    "title": "3-Clusters Gaussian Data",
    "width": 171, "height": 210,
    "view": {"stroke": "#6a6a6a"},
    "data": {"name": "g3"},
    "layer": [
      {
        "mark": {"type": "circle", "size": 22, "opacity": 1, "color": "#0E6FBA", "clip": true},
        "encoding": {
          "x": {"field": "x", "type": "quantitative", "scale": {"domain": [-5, 10], "nice": false, "zero": false}, "axis": {"values": [-5, 0, 5, 10]}},
          "y": {"field": "y", "type": "quantitative", "scale": {"domain": [-4, 6.5], "nice": false, "zero": false}, "axis": {"values": [-4, -2, 0, 2, 4, 6]}}
        }
      },
      {
        "mark": {"type": "circle", "size": 1, "opacity": 0, "clip": true},
        "encoding": {
          "x": {"field": "x", "type": "quantitative", "scale": {"domain": [-5, 10], "nice": false, "zero": false}, "axis": {"orient": "top", "labels": false, "values": [-5, 0, 5, 10]}},
          "y": {"field": "y", "type": "quantitative", "scale": {"domain": [-4, 6.5], "nice": false, "zero": false}, "axis": {"orient": "right", "labels": false, "values": [-4, -2, 0, 2, 4, 6]}}
        }
      }
    ],
    "resolve": {"axis": {"x": "independent", "y": "independent"}}
  },
  {
    "title": "4-Clusters Corners",
    "width": 171, "height": 210,
    "data": {"name": "corners"},
    "mark": {"type": "rect", "strokeWidth": 1.2, "clip": true},
    "encoding": {
      "x": {"field": "x", "type": "quantitative", "scale": {"domain": [-12, 12], "nice": false, "zero": false}, "axis": {"values": [-10, 0, 10]}},
      "x2": {"field": "x2"},
      "y": {"field": "y", "type": "quantitative", "scale": {"domain": [-14.3, 14.3], "nice": false, "zero": false}, "axis": {"values": [-10, -5, 0, 5, 10]}},
      "y2": {"field": "y2"},
      "color": {"field": "c", "type": "nominal", "scale": {"domain": ["k", "y", "l", "g"], "range": ["#3B2AA0", "#F7F415", "#2394E8", "#76C04E"]}, "legend": null},
      "stroke": {"field": "c", "type": "nominal", "scale": {"domain": ["k", "y", "l", "g"], "range": ["#3B2AA0", "#F7F415", "#2394E8", "#76C04E"]}, "legend": null}
    }
  },
  {
    "title": "4-Clusters Outlier Data",
    "width": 171, "height": 210,
    "layer": [
      {
        "data": {"name": "outA"},
        "mark": {"type": "area", "strokeWidth": 1.2, "clip": true},
        "encoding": {
          "x": {"field": "x", "type": "quantitative", "scale": {"domain": [-30, 30], "nice": false, "zero": false}, "axis": {"values": [-20, 0, 20]}},
          "y": {"field": "y", "type": "quantitative", "scale": {"domain": [-33.5, 38.5], "nice": false, "zero": false}, "axis": {"values": [-20, 0, 20]}},
          "y2": {"field": "y2"},
          "detail": {"field": "g"},
          "color": {"field": "c", "type": "nominal", "scale": {"domain": ["k", "y", "l", "g"], "range": ["#3B2AA0", "#F7F415", "#2394E8", "#76C04E"]}, "legend": null},
          "stroke": {"field": "c", "type": "nominal", "scale": {"domain": ["k", "y", "l", "g"], "range": ["#3B2AA0", "#F7F415", "#2394E8", "#76C04E"]}, "legend": null}
        }
      },
      {
        "data": {"name": "outR"},
        "mark": {"type": "rect", "strokeWidth": 1, "clip": true},
        "encoding": {
          "x": {"field": "x", "type": "quantitative"},
          "x2": {"field": "x2"},
          "y": {"field": "y", "type": "quantitative"},
          "y2": {"field": "y2"},
          "color": {"field": "c", "type": "nominal", "legend": null},
          "stroke": {"field": "c", "type": "nominal", "legend": null}
        }
      }
    ]
  },
  {
    "title": "5-Clusters Gaussian Data",
    "width": 171, "height": 210,
    "view": {"stroke": "#6a6a6a"},
    "data": {"name": "g5"},
    "layer": [
      {
        "mark": {"type": "circle", "size": 22, "opacity": 1, "color": "#0E6FBA", "clip": true},
        "encoding": {
          "x": {"field": "x", "type": "quantitative", "scale": {"domain": [-10, 10], "nice": false, "zero": false}, "axis": {"values": [-10, 0, 10], "labelAlign": {"condition": {"test": "datum.value == -10", "value": "left"}, "value": "center"}}},
          "y": {"field": "y", "type": "quantitative", "scale": {"domain": [-10, 10], "nice": false, "zero": false}, "axis": {"values": [-10, -5, 0, 5, 10]}}
        }
      },
      {
        "mark": {"type": "circle", "size": 1, "opacity": 0, "clip": true},
        "encoding": {
          "x": {"field": "x", "type": "quantitative", "scale": {"domain": [-10, 10], "nice": false, "zero": false}, "axis": {"orient": "top", "labels": false, "values": [-10, 0, 10]}},
          "y": {"field": "y", "type": "quantitative", "scale": {"domain": [-10, 10], "nice": false, "zero": false}, "axis": {"orient": "right", "labels": false, "values": [-10, -5, 0, 5, 10]}}
        }
      }
    ],
    "resolve": {"axis": {"x": "independent", "y": "independent"}}
  }
]
}
